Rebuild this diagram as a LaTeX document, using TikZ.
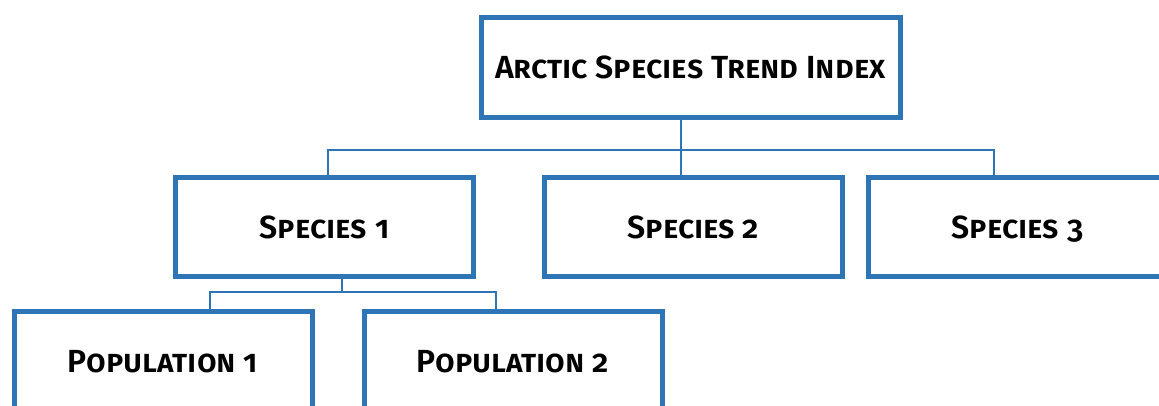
\documentclass[tikz,border=0pt]{standalone}
\usepackage{fontspec}
\setmainfont{Fira Sans}[Numbers=OldStyle, BoldFont={Fira Sans SemiBold}]
\definecolor{boxblue}{RGB}{46,117,182}
\tikzset{
  orgbox/.style={draw=boxblue, line width=5pt, fill=white, minimum width=298pt, minimum height=99pt, inner sep=0pt, text height=22pt, text depth=0pt, font=\fontsize{32}{36}\selectfont\bfseries\scshape},
  conn/.style={draw=boxblue, line width=2pt}
}
\begin{document}
\begin{tikzpicture}[x=1pt,y=-1pt]
\useasboundingbox (0,0) rectangle (1159,405);
\clip (0,0) rectangle (1159,405);
\node[orgbox, minimum width=419pt, minimum height=100pt] (t) at (690.5,67) {Arctic Species Trend Index};
\node[orgbox] (s1) at (324.5,227) {Species 1};
\node[orgbox] (s2) at (693.5,227) {Species 2};
\node[orgbox] (s3) at (1017.5,227) {Species 3};
\node[orgbox] (p1) at (163,361) {Population 1};
\node[orgbox] (p2) at (513,361) {Population 2};
\coordinate (b1) at (681,150);
\coordinate (b2) at (342,292);
\draw[conn] ([xshift=-9.5pt]t.south) -- ([xshift=-12.5pt]s2.north);
\draw[conn] ([xshift=3.5pt]s1.north) |- (b1) -| ([xshift=-23.5pt]s3.north);
\draw[conn] ([xshift=17.5pt]s1.south) -- (b2);
\draw[conn] ([xshift=47pt]p1.north) |- (b2) -| ([xshift=-17pt]p2.north);
\end{tikzpicture}
\end{document}
